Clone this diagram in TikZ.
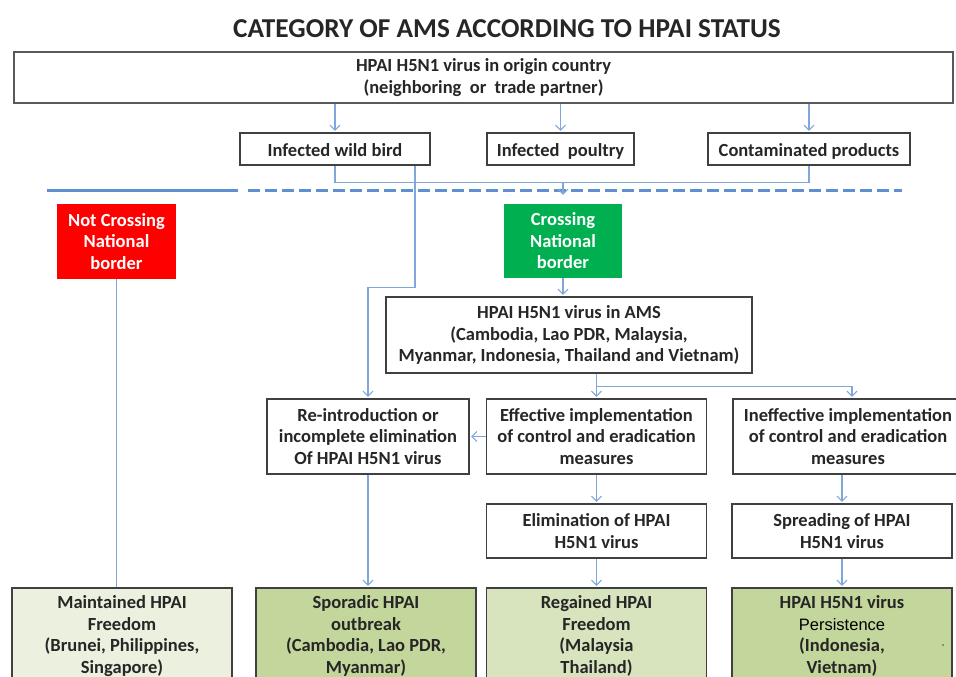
\documentclass[tikz,border=0pt]{standalone}
\usepackage{fontspec}
\setmainfont{Carlito}
\newfontfamily\arialfont{Liberation Sans}
\usetikzlibrary{arrows.meta}
\definecolor{boxgray}{HTML}{404040}
\definecolor{connblue}{HTML}{7FA7DC}
\definecolor{borderblue}{HTML}{5E8FCF}
\definecolor{redbox}{HTML}{FF0000}
\definecolor{greenbox}{HTML}{00B050}
\definecolor{paleg}{HTML}{EBF1DE}
\definecolor{midg}{HTML}{D7E4BD}
\definecolor{darkg}{HTML}{C3D69B}
\tikzset{
  box/.style={draw=boxgray, line width=1.2pt, fill=white, align=center, inner sep=0pt,
    font=\bfseries\fontsize{18.5}{21.5}\selectfont, text=black!85},
  onebox/.style={box, text height=15pt, text depth=0pt},
  colbox/.style={draw=none, align=center, inner sep=0pt, text=white,
    font=\bfseries\fontsize{18.5}{21.5}\selectfont},
  conn/.style={draw=connblue, line width=1.1pt},
  arr/.style={conn, -{Straight Barb[length=5pt,width=10pt,line width=1.1pt]}, shorten >=1.5pt},
  borderline/.style={draw=borderblue, line width=3.8pt}
}
\begin{document}
\begin{tikzpicture}[x=1pt,y=-1pt]
\useasboundingbox (0,0) rectangle (956,677);
\clip (0,0) rectangle (956,677);
\fill[white] (0,0) rectangle (956,677);

% title
\node[font=\bfseries\fontsize{27.3}{30}\selectfont, text=black!85] (title) at (507,28.5) {CATEGORY OF AMS ACCORDING TO HPAI STATUS};

% top row
\node[box, draw=black!65, line width=1.6pt, minimum width=939pt, minimum height=51pt] (top) at (483.5,77.5)
  {HPAI H5N1 virus in origin country\\(neighboring~ or~ trade partner)};
\node[onebox, minimum width=190pt, minimum height=32pt] (wild) at (335,149) {Infected wild bird};
\node[onebox, minimum width=147pt, minimum height=32pt] (poultry) at (560.5,149) {Infected~ poultry};
\node[onebox, minimum width=202pt, minimum height=32pt] (contam) at (809,149) {Contaminated products};

% border line
\draw[borderline] (47,190.5) -- (238,190.5);
\draw[borderline, dash pattern=on 12pt off 5pt] (248,190.5) -- (902,190.5);

% crossing boxes
\node[colbox, fill=redbox, minimum width=119pt, minimum height=75pt] (notx) at (116.5,241.5)
  {Not Crossing\\National\\border};
\node[colbox, fill=greenbox, minimum width=118pt, minimum height=74pt] (cross) at (563,241)
  {Crossing\\National\\border};

% AMS
\node[box, minimum width=366pt, minimum height=76pt] (ams) at (569,335)
  {HPAI H5N1 virus in AMS\\(Cambodia, Lao PDR, Malaysia,\\Myanmar, Indonesia, Thailand and Vietnam)};

% middle row
\node[box, minimum width=202pt, minimum height=75pt] (reintro) at (368,436.5)
  {Re-introduction or\\incomplete elimination\\Of HPAI H5N1 virus};
\node[box, minimum width=220pt, minimum height=75pt] (eff) at (596.5,436.5)
  {Effective implementation\\of control and eradication\\measures};
\node[box, minimum width=230pt, minimum height=75pt] (ineff) at (848,436.5)
  {Ineffective implementation\\of control and eradication\\measures};

% lower row
\node[box, minimum width=220pt, minimum height=54pt] (elim) at (596.5,531)
  {Elimination of HPAI\\H5N1 virus};
\node[box, minimum width=220pt, minimum height=54pt] (spread) at (842,531)
  {Spreading of HPAI\\H5N1 virus};

% bottom outcome boxes
\node[box, fill=paleg, minimum width=220pt, minimum height=96pt] (maint) at (122,636)
  {Maintained HPAI\\Freedom\\(Brunei, Philippines,\\Singapore)};
\node[box, fill=darkg, minimum width=220pt, minimum height=96pt] (spor) at (366,636)
  {Sporadic HPAI\\outbreak\\(Cambodia, Lao PDR,\\Myanmar)};
\node[box, fill=midg, minimum width=220pt, minimum height=96pt] (regain) at (596.5,636)
  {Regained HPAI\\Freedom\\(Malaysia\\Thailand)};
\node[box, fill=darkg, minimum width=220pt, minimum height=96pt] (persist) at (842,636)
  {HPAI H5N1 virus\\{\arialfont\mdseries\fontsize{16.5}{21.5}\selectfont\color{black}Persistence}\\(Indonesia,\\Vietnam)};
\fill[black!70] (943,645) circle (0.9pt);

% connectors
\draw[arr] (top.south -| wild.north) -- (wild.north);
\draw[arr] (top.south -| poultry.north) -- (poultry.north);
\draw[arr] (top.south -| contam.north) -- (contam.north);

\draw[conn] (wild.south) -- ++(0,17) -| (contam.south);
\coordinate (join) at (cross.north |- 0,182);
\draw[arr, shorten >=9pt] (join) -- (cross.north);

\draw[arr] ([xshift=80pt]wild.south) -- ++(0,122) -| (reintro.north);

\draw[conn] (notx.south) -- (notx.south |- maint.north);

\draw[arr] (cross.south) -- (cross.south |- ams.north);
\draw[arr] (ams.south -| eff.north) -- (eff.north);
\draw[arr] (ams.south -| eff.north) -- ++(0,13) -| ([xshift=4pt]ineff.north);

\draw[arr] (eff.west) -- (reintro.east);
\draw[arr] (eff.south) -- (elim.north);
\draw[arr] (spread.north |- ineff.south) -- (spread.north);
\draw[arr] (reintro.south) -- (reintro.south |- spor.north);
\draw[arr] (elim.south) -- (regain.north);
\draw[arr] (spread.south) -- (persist.north);
\end{tikzpicture}
\end{document}
